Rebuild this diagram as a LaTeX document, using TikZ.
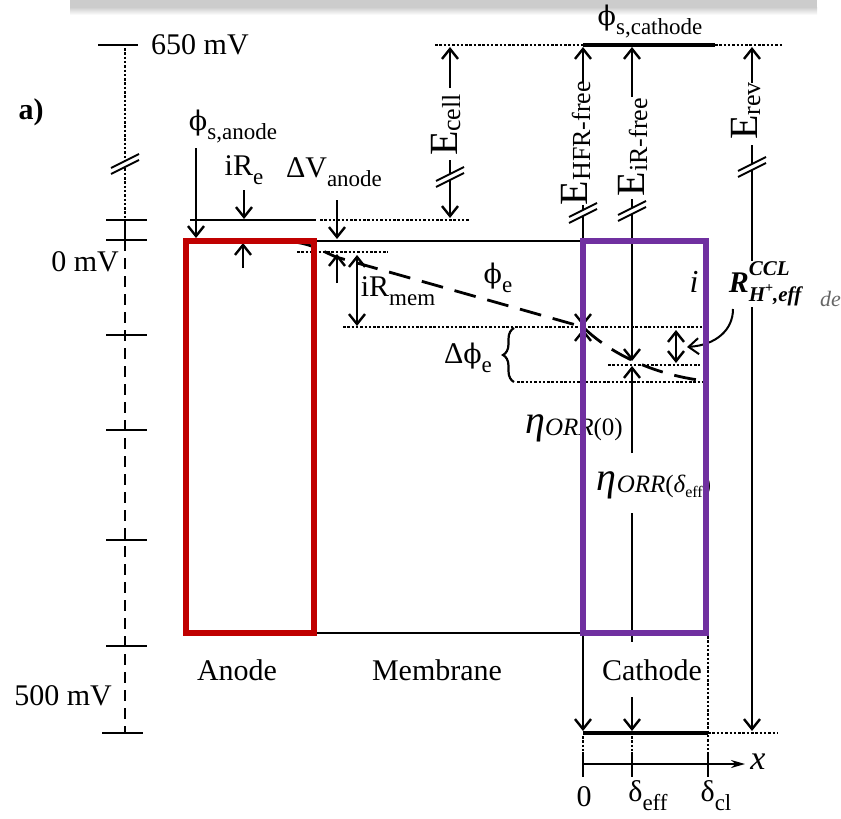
\documentclass[tikz,border=0pt]{standalone}
\usepackage{fontspec}
\setmainfont{Liberation Serif}
\newfontfamily\djs{DejaVu Serif}
\usetikzlibrary{arrows.meta,decorations.pathreplacing}
\definecolor{anodered}{HTML}{C00000}
\definecolor{cathpurple}{HTML}{7030A0}
\newcommand\phis{{\djs\fontsize{27}{30}\selectfont ϕ}}
\newcommand\sbs[1]{\raisebox{-0.3em}{\fontsize{23}{24}\selectfont #1}}
\newcommand\Elab[1]{{\fontsize{40}{40}\selectfont E}\raisebox{-0.25em}{\fontsize{26}{26}\selectfont #1}}
\newcommand\etalab[1]{{\fontsize{40}{44}\selectfont\itshape η}\raisebox{-0.28em}{\fontsize{25}{26}\selectfont #1}}
\tikzset{
  >={Straight Barb[length=10pt,width=16pt]},
  lbl/.style={font=\fontsize{30}{36}\selectfont, inner sep=0pt},
  elbl/.style={rotate=90, inner sep=0pt},
  ln/.style={line width=2.4pt},
  thinl/.style={line width=1.5pt},
  arr/.style={line width=2.4pt,->},
  dbl/.style={line width=2.4pt,<->},
  dots/.style={line width=2pt,dash pattern=on 2.5pt off 1.8pt},
  tickm/.style={line width=2.4pt},
  brk/.pic={
    \fill[white] (-14,3) -- (14,-11) -- (14,-5) -- (-14,9) -- cycle;
    \draw[line width=2pt] (-14,3) -- (14,-11) (-14,9) -- (14,-5);
  }
}
\begin{document}
\begin{tikzpicture}[x=1pt,y=-1pt]
\useasboundingbox (0,0) rectangle (841,819);
% top shadow band
\fill[gray!40] (70,0) rectangle (817,7);
\shade[top color=gray!40,bottom color=white] (70,7) rectangle (817,15);

\node[font=\fontsize{30}{36}\selectfont\bfseries, inner sep=0pt] (pa) at (31,112) {a)};

% left scale
\draw[tickm] (98,45) -- (138,45);
\node[lbl, anchor=west] (l650) at (151,45) {650 mV};
\draw[dots] (125,48) -- (125,218);
\pic at (125,165) {brk};
\draw[tickm] (106,220) -- (147,220);
\draw[tickm] (106,240) -- (147,240);
\draw[ln] (125,220) -- (125,240);
\node[lbl, anchor=east] (l0) at (119,262) {0 mV};
\draw[line width=2.2pt, dash pattern=on 11pt off 7pt] (125,240) -- (125,733);
\foreach \yy in {335,430,540,646} \draw[tickm] (106,\yy) -- (147,\yy);
\draw[tickm] (102,733) -- (143,733);
\node[lbl, anchor=east] (l500) at (112,696) {500 mV};

% anode / membrane frame
\draw[thinl] (190,220) -- (316,220);
\draw[dots, line width=1.6pt] (320,220) -- (470,220);
\draw[thinl] (186,241) rectangle (583,633);

\node[lbl] (phsa) at (233,127) {\phis\sbs{s,anode}};
\coordinate (a1) at (196,148); \coordinate (a2) at (196,238);
\draw[arr] (a1) -- (a2);
\node[lbl] (ire) at (244,170) {iR\sbs{e}};
\coordinate (ir1) at (244,190); \coordinate (ir2) at (244,219);
\draw[arr] (ir1) -- (ir2);
\coordinate (ir3) at (243,268); \coordinate (ir4) at (243,243);
\draw[arr] (ir3) -- (ir4);
\node[lbl] (dva) at (334,172) {ΔV\sbs{anode}};
\coordinate (dv1) at (337,200); \coordinate (dv2) at (337,239);
\draw[arr] (dv1) -- (dv2);
\draw[dots] (297,252) -- (388,252);
\coordinate (up1) at (337,283); \coordinate (up2) at (337,254);
\draw[arr] (up1) -- (up2);
\coordinate (m1) at (357,255); \coordinate (m2) at (357,326);
\draw[dbl] (m1) -- (m2);
\node[lbl] (irm) at (398,291) {iR\sbs{mem}};
\draw[dots] (343,327) -- (703,327);
\node[lbl] (phe) at (498,278) {\phis\sbs{e}};
\node[lbl] (dphe) at (468,358) {Δ\phis\sbs{e}};
\draw[line width=2.2pt, decorate, decoration={brace, amplitude=11pt}] (514,382) -- (514,328);
\draw[dots] (517,382) -- (703,382);
\draw[dots] (608,365) -- (700,365);

% electrolyte potential
\draw[line width=2.8pt, dash pattern=on 22pt off 12pt] (258,242) -- (290,242) .. controls (308,242) and (322,251) .. (336,257) -- (583,327) .. controls (603,347) and (645,374) .. (706,381);

% cathode top
\draw[dots] (435,45) -- (583,45);
\draw[line width=3.2pt] (583,45) -- (715,45);
\draw[dots] (715,45) -- (782,45);
\node[lbl] (phsc) at (650,22) {\phis\sbs{s,cathode}};

% E_cell
\node[elbl] (ecell) at (446,125) {\Elab{cell}};
\coordinate (ec1) at (450,88); \coordinate (ec2) at (450,47);
\coordinate (ec3) at (450,160); \coordinate (ec4) at (450,218);
\draw[arr] (ec1) -- (ec2);
\draw[arr] (ec3) -- (ec4);
\pic at (450,178) {brk};

% E_HFR-free
\node[elbl] (ehfr) at (576,143) {\Elab{HFR-free}};
\coordinate (eh1) at (583,83); \coordinate (eh2) at (583,47);
\coordinate (eh3) at (583,205); \coordinate (eh4) at (583,326);
\draw[arr] (eh1) -- (eh2);
\draw[arr] (eh3) -- (eh4);
\pic at (583,214) {brk};

% E_iR-free
\node[elbl] (eir) at (633,147) {\Elab{iR-free}};
\coordinate (ei1) at (632,97); \coordinate (ei2) at (632,47);
\coordinate (ei3) at (632,199); \coordinate (ei4) at (632,361);
\draw[arr] (ei1) -- (ei2);
\draw[arr] (ei3) -- (ei4);
\pic at (632,212) {brk};

% E_rev
\node[elbl] (erev) at (746,111) {\Elab{rev}};
\coordinate (er1) at (752,83); \coordinate (er2) at (752,47);
\coordinate (er3) at (752,145); \coordinate (er4) at (752,731);
\draw[arr] (er1) -- (er2);
\draw[arr] (er3) -- (er4);
\pic at (752,168) {brk};

% eta_ORR(0)
\coordinate (o1) at (583,500); \coordinate (o2) at (583,329); \coordinate (o3) at (583,731);
\draw[arr] (o1) -- (o2);
\draw[arr] (o1) -- (o3);
\node[inner sep=0pt] (eta0) at (574,428) {\etalab{\itshape ORR\upshape(0)}};

% eta_ORR(delta_eff)
\coordinate (d1) at (632,453); \coordinate (d2) at (632,366);
\draw[arr] (d1) -- (d2);
\draw[ln] (632,513) -- (632,642);
\coordinate (d3) at (632,697); \coordinate (d4) at (632,731);
\draw[arr] (d3) -- (d4);
\node[inner sep=0pt] (etad) at (654,485) {\etalab{\itshape ORR\upshape(\itshape δ\raisebox{-0.2em}{\fontsize{16}{16}\selectfont\upshape eff}\upshape)}};

% bottom axis
\draw[line width=3.2pt] (583,733) -- (708,733);
\draw[dots] (708,733) -- (778,733);
\draw[dots] (708,636) -- (708,752);
\draw[dots] (583,736) -- (583,752);
\draw[dots] (632,736) -- (632,752);
\coordinate (x0) at (583,764); \coordinate (x1) at (745,764);
\draw[line width=2pt, -{Stealth[length=14pt,width=8pt]}] (x0) -- (x1);
\foreach \xx in {583,632,708} \draw[line width=2.2pt] (\xx,752) -- (\xx,777);
\node[inner sep=0pt, font=\fontsize{34}{40}\selectfont\itshape] (xl) at (758,762) {x};
\node[lbl] (z0) at (584,797) {0};
\node[lbl] (deff) at (648,796) {δ\sbs{eff}};
\node[lbl] (dcl) at (716,796) {δ\sbs{cl}};

\node[lbl] (anL) at (237,670) {Anode};
\node[lbl] (memL) at (437,670) {Membrane};
\node[lbl] (cathL) at (652,670) {Cathode};

% CCL resistance label
\node[inner sep=0pt, text=gray!80!black, font=\fontsize{22}{24}\selectfont\itshape, anchor=east] (ode) at (841,299) {de};
\node[lbl, font=\fontsize{32}{36}\selectfont\itshape] (iL) at (694,282) {i};
\node[fill=white, inner sep=0pt, minimum width=96pt, minimum height=46pt] (rccl) at (765,284) {\bfseries\itshape\fontsize{30}{34}\selectfont R\rlap{\raisebox{0.55em}{\fontsize{21}{22}\selectfont CCL}}\raisebox{-0.3em}{\fontsize{21}{22}\selectfont H\raisebox{0.45em}{\fontsize{14}{15}\selectfont +},eff}};
\coordinate (c1) at (733,309); \coordinate (c2) at (687,347);
\draw[line width=2pt, ->] (c1) .. controls (733,330) and (716,345) .. (c2);
\coordinate (r1) at (676,330); \coordinate (r2) at (676,363);
\draw[dbl] (r1) -- (r2);

% coloured electrode frames
\draw[anodered, line width=6pt] (186,241) rectangle (314,633);
\draw[cathpurple, line width=6pt] (583,241) rectangle (706,633);
\end{tikzpicture}
\end{document}
